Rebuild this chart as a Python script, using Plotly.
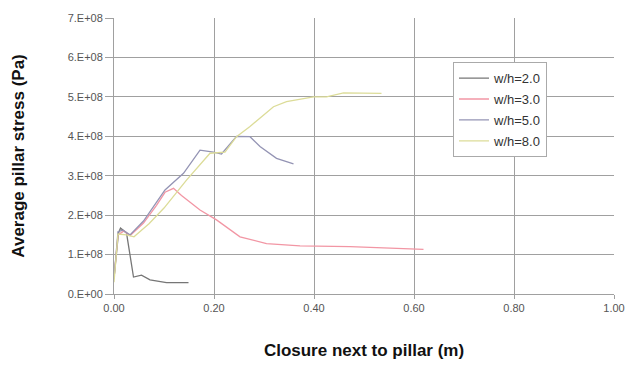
import plotly.graph_objects as go

# Closure next to pillar (m) and average pillar stress (Pa)
x_w2 = [0.000, 0.009, 0.013, 0.025, 0.039, 0.055, 0.072, 0.105, 0.149]
y_w2 = [4.1e7, 1.55e8, 1.67e8, 1.55e8, 4.3e7, 4.8e7, 3.6e7, 2.9e7, 2.9e7]

x_w3 = [0.000, 0.008, 0.020, 0.032, 0.059, 0.085, 0.102, 0.119, 0.135, 0.172, 0.205,
        0.252, 0.305, 0.372, 0.472, 0.585, 0.619]
y_w3 = [4.0e7, 1.50e8, 1.60e8, 1.48e8, 1.80e8, 2.25e8, 2.58e8, 2.68e8, 2.50e8, 2.13e8, 1.88e8,
        1.45e8, 1.28e8, 1.22e8, 1.20e8, 1.16e8, 1.13e8]

x_w5 = [0.000, 0.008, 0.018, 0.032, 0.059, 0.085, 0.102, 0.139, 0.172, 0.199, 0.215,
        0.245, 0.272, 0.292, 0.325, 0.359]
y_w5 = [4.0e7, 1.58e8, 1.62e8, 1.50e8, 1.85e8, 2.32e8, 2.64e8, 3.06e8, 3.65e8, 3.60e8, 3.55e8,
        4.00e8, 3.99e8, 3.74e8, 3.44e8, 3.30e8]

x_w8 = [0.000, 0.008, 0.025, 0.040, 0.070, 0.100, 0.145, 0.192, 0.222, 0.245, 0.272,
        0.319, 0.345, 0.399, 0.425, 0.459, 0.535]
y_w8 = [3.0e7, 1.52e8, 1.50e8, 1.45e8, 1.78e8, 2.18e8, 2.89e8, 3.57e8, 3.60e8, 3.99e8, 4.25e8,
        4.75e8, 4.88e8, 5.00e8, 5.00e8, 5.10e8, 5.09e8]

series_names = ["w/h=2.0", "w/h=3.0", "w/h=5.0", "w/h=8.0"]
series_x = [x_w2, x_w3, x_w5, x_w8]
series_y = [y_w2, y_w3, y_w5, y_w8]
series_colors = ["#767676", "#f296a4", "#9494b4", "#dcdc98"]

y_tickvals = [0, 1e8, 2e8, 3e8, 4e8, 5e8, 6e8, 7e8]
y_ticktext = ["0.E+00", "1.E+08", "2.E+08", "3.E+08", "4.E+08", "5.E+08", "6.E+08", "7.E+08"]
x_tickvals = [0.0, 0.2, 0.4, 0.6, 0.8, 1.0]
x_ticktext = ["0.00", "0.20", "0.40", "0.60", "0.80", "1.00"]

fig = go.Figure()
for i, (name, xs, ys, c) in enumerate(zip(series_names, series_x, series_y, series_colors)):
    fig.add_trace(go.Scatter(x=xs, y=ys, mode="lines", name=name,
                             legendgroup=name,
                             line=dict(color=c, width=1.3)))

fig.update_layout(
    width=627, height=365,
    margin=dict(l=114, r=13, t=18, b=71),
    paper_bgcolor="white", plot_bgcolor="white",
    font=dict(family="Arial, Liberation Sans, sans-serif", color="#333"),
    showlegend=True,
    legend=dict(x=0.678, y=0.84, xanchor="left", yanchor="top",
                bgcolor="white", bordercolor="#aaaaaa", borderwidth=1,
                font=dict(size=13, color="#333"), tracegroupgap=1,
                itemwidth=30),
)
fig.update_xaxes(range=[0, 1], tickvals=x_tickvals, ticktext=x_ticktext,
                 showgrid=True, gridcolor="#a0a0a0", gridwidth=1,
                 zeroline=False, showline=True, linecolor="#a0a0a0",
                 ticks="outside", ticklen=4, tickcolor="#a0a0a0",
                 tickfont=dict(size=11, color="#555"), automargin=False,
                 title=dict(text="<b>Closure next to pillar (m)</b>",
                            font=dict(size=17, color="#111"), standoff=30))
fig.update_yaxes(range=[0, 7e8], tickvals=y_tickvals, ticktext=y_ticktext,
                 showgrid=True, gridcolor="#a0a0a0", gridwidth=1,
                 zeroline=False, showline=True, linecolor="#a0a0a0",
                 ticks="outside", ticklen=8, tickcolor="#a0a0a0",
                 tickfont=dict(size=11, color="#555"), automargin=False,
                 title=dict(text="<b>Average pillar stress (Pa)</b>",
                            font=dict(size=17, color="#111"), standoff=38))

fig.write_html("out.html", config={"displayModeBar": False},
               post_script="document.body.style.margin='0';")
